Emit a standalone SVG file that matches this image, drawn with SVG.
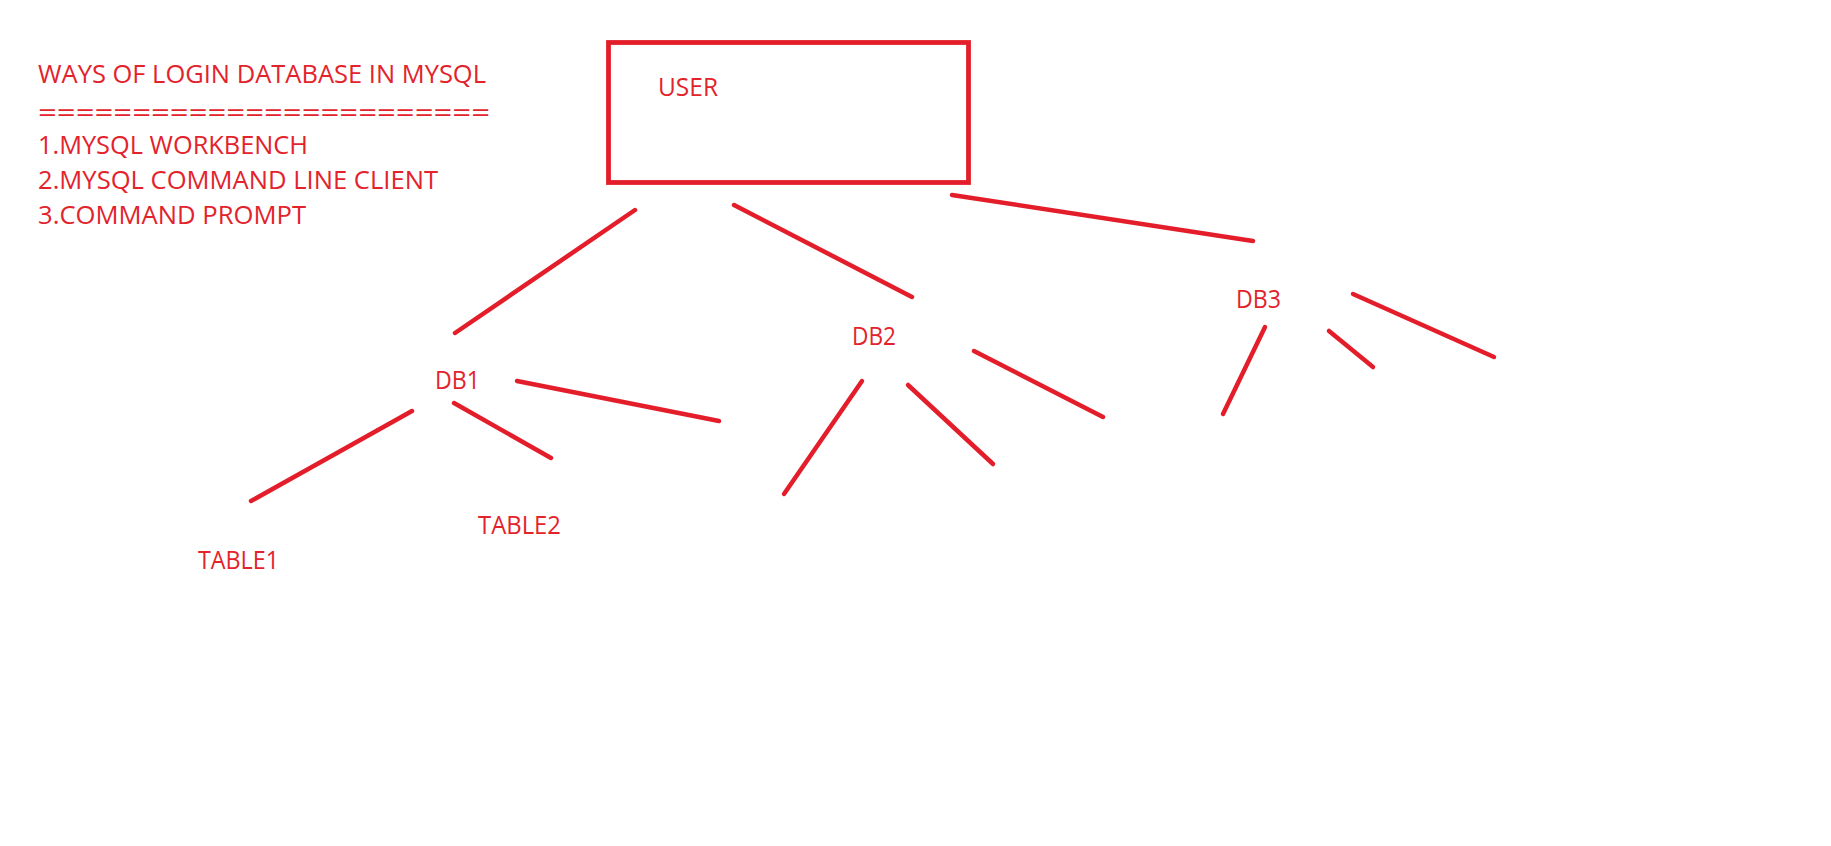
<svg xmlns="http://www.w3.org/2000/svg" width="1831" height="846" viewBox="0 0 1831 846">
<style>
text{font-family:"Open Sans","Noto Sans","Liberation Sans",sans-serif;font-size:26px;fill:#E3232C}
.ln{stroke:#E31E2A;stroke-width:4.5;stroke-linecap:round;fill:none}
</style>
<rect width="1831" height="846" fill="#ffffff"/>
<g id="notes">
<text x="38" y="83" textLength="448" lengthAdjust="spacingAndGlyphs">WAYS OF LOGIN DATABASE IN MYSQL</text>
<text x="38" y="122" textLength="452" lengthAdjust="spacingAndGlyphs">========================</text>
<text x="38" y="154" textLength="270" lengthAdjust="spacingAndGlyphs">1.MYSQL WORKBENCH</text>
<text x="38" y="189" textLength="400" lengthAdjust="spacingAndGlyphs">2.MYSQL COMMAND LINE CLIENT</text>
<text x="38" y="224" textLength="268" lengthAdjust="spacingAndGlyphs">3.COMMAND PROMPT</text>
</g>
<g id="user">
<rect x="608.5" y="42.5" width="360" height="140" fill="none" stroke="#E31E2A" stroke-width="4.8"/>
<text x="658" y="96" textLength="60" lengthAdjust="spacingAndGlyphs">USER</text>
</g>
<g id="db1"><text x="435" y="389" textLength="45" lengthAdjust="spacingAndGlyphs">DB1</text></g>
<g id="db2"><text x="852" y="345" textLength="44" lengthAdjust="spacingAndGlyphs">DB2</text></g>
<g id="db3"><text x="1236" y="308" textLength="45" lengthAdjust="spacingAndGlyphs">DB3</text></g>
<g id="table1"><text x="198" y="569" textLength="81" lengthAdjust="spacingAndGlyphs">TABLE1</text></g>
<g id="table2"><text x="478" y="534" textLength="83" lengthAdjust="spacingAndGlyphs">TABLE2</text></g>
<g id="connectors" class="ln">
<line x1="635" y1="210" x2="455" y2="333"/>
<line x1="734" y1="205" x2="912" y2="297"/>
<line x1="952" y1="195" x2="1253" y2="241"/>
<line x1="517" y1="381" x2="719" y2="421"/>
<line x1="454" y1="403" x2="551" y2="458"/>
<line x1="412" y1="411" x2="251" y2="501"/>
<line x1="862" y1="381" x2="784" y2="494"/>
<line x1="908" y1="385" x2="993" y2="464"/>
<line x1="974" y1="351" x2="1103" y2="417"/>
<line x1="1265" y1="327" x2="1223" y2="414"/>
<line x1="1329" y1="331" x2="1373" y2="367"/>
<line x1="1353" y1="294" x2="1494" y2="357"/>
</g>
</svg>
